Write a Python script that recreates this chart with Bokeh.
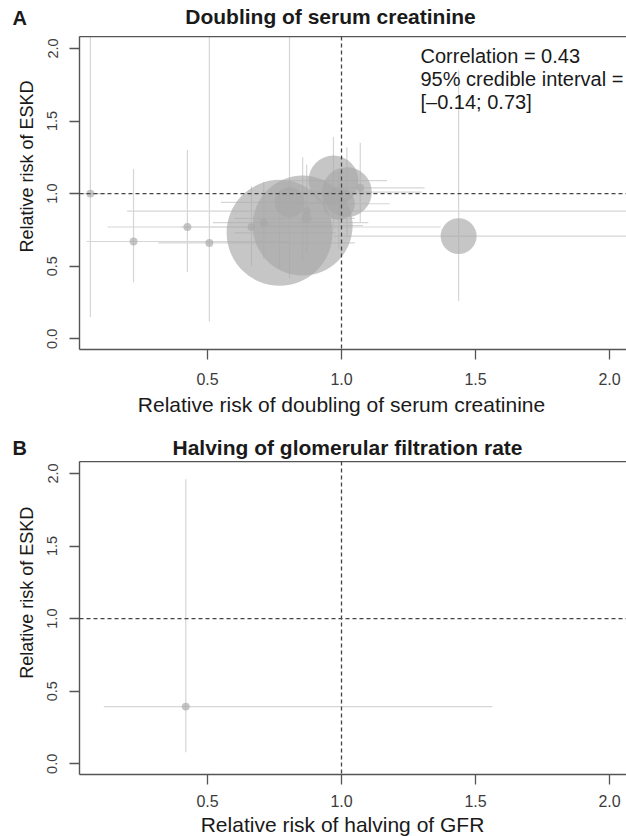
import numpy as np
from bokeh.plotting import figure
from bokeh.models import (Span, Label, LinearAxis, FixedTicker, ColumnDataSource,
                          Range1d, NumeralTickFormatter)
from bokeh.layouts import column, row
from bokeh.embed import file_html
from bokeh.resources import INLINE

# ---------------- data ----------------
# Panel A: relative risk of doubling of serum creatinine (x) vs ESKD (y)
a_rr_dsc   = [0.063, 0.224, 0.425, 0.507, 0.664, 0.710, 0.769, 0.855, 0.806, 0.870, 0.870, 0.970, 1.020, 0.990, 1.070, 1.437]
a_dsc_lo   = [0.035, 0.049, 0.127, 0.317, 0.400, 0.520, 0.600, 0.700, 0.550, 0.200, 0.600, 0.800, 0.850, 0.800, 0.950, 0.970]
a_dsc_hi   = [0.120, 0.800, 1.370, 1.050, 1.000, 1.100, 0.980, 1.080, 0.980, 2.300, 1.050, 1.170, 1.300, 1.180, 1.310, 2.300]
a_rr_eskd  = [1.000, 0.670, 0.770, 0.660, 0.770, 0.800, 0.730, 0.780, 0.940, 0.880, 0.830, 1.090, 1.010, 0.930, 1.040, 0.707]
a_eskd_lo  = [0.150, 0.390, 0.460, 0.120, 0.500, 0.550, 0.490, 0.540, 0.420, 0.600, 0.600, 0.750, 0.700, 0.620, 0.800, 0.260]
a_eskd_hi  = [2.300, 1.170, 1.300, 2.300, 1.050, 1.080, 1.020, 1.250, 2.300, 1.200, 1.100, 1.390, 1.320, 1.150, 1.350, 1.850]
a_weight   = [0.21, 0.21, 0.21, 0.21, 0.21, 0.21, 37.4, 33.3, 3.0, 0.21, 0.33, 8.3, 8.3, 3.4, 0.21, 4.3]

# Panel B: relative risk of halving of GFR (x) vs ESKD (y)
b_rr_gfr   = [0.419]
b_gfr_lo   = [0.113]
b_gfr_hi   = [1.563]
b_rr_eskd  = [0.394]
b_eskd_lo  = [0.080]
b_eskd_hi  = [1.960]
b_weight   = [0.21]

x_ticks = [0.5, 1.0, 1.5, 2.0]
y_ticks = [0.0, 0.5, 1.0, 1.5, 2.0]

title_a = "Doubling of serum creatinine"
title_b = "Halving of glomerular filtration rate"
xlab_a = "Relative risk of doubling of serum creatinine"
xlab_b = "Relative risk of halving of GFR"
ylab = "Relative risk of ESKD"
annot = ["Correlation = 0.43", "95% credible interval =", "[\u20130.14; 0.73]"]

# ---------------- style ----------------
FONT = "Liberation Sans"
BOX = "#555555"
TICKC = "#3c3c3c"
TXT = "#1a1a1a"
CI_COL = "#d6d6d6"
BUB_COL = "#a8a8a8"
X0, X1 = 0.0224, 2.0634
Y0, Y1 = -0.0737, 2.082
W = 626
STRIP_W = 38


def text_strip(w, h, items):
    """A blank figure used only to hold texts (titles, axis titles)."""
    s = figure(width=w, height=h, x_range=Range1d(0, w), y_range=Range1d(0, h),
               output_backend="svg", toolbar_location=None, min_border=0,
               x_axis_location=None, y_axis_location=None)
    s.grid.visible = False
    s.outline_line_color = None
    s.background_fill_color = "white"
    s.border_fill_color = "white"
    for it in items:
        s.add_layout(Label(text_font=FONT, text_baseline="middle", text_color=TXT, **it))
    return s


def make_panel(h, bottom, xs, xlo, xhi, ys, ylo, yhi, w, tick_standoff):
    p = figure(width=W - STRIP_W, height=h, x_range=Range1d(X0, X1), y_range=Range1d(Y0, Y1),
               output_backend="svg", toolbar_location=None,
               min_border_left=41, min_border_right=0,
               min_border_top=0, min_border_bottom=bottom)
    p.grid.visible = False
    p.outline_line_color = None
    p.background_fill_color = "white"
    p.border_fill_color = "white"

    size = 17.32 * np.sqrt(np.array(w))
    src = ColumnDataSource(dict(x=xs, xlo=xlo, xhi=xhi, y=ys, ylo=ylo, yhi=yhi, size=size))
    p.segment(x0="xlo", y0="y", x1="xhi", y1="y", source=src, line_color=CI_COL, line_width=1.2)
    p.segment(x0="x", y0="ylo", x1="x", y1="yhi", source=src, line_color=CI_COL, line_width=1.2)
    p.scatter(x="x", y="y", size="size", source=src, fill_color=BUB_COL, fill_alpha=0.65,
              line_color=None)

    for sp in (Span(location=1.0, dimension="height"), Span(location=1.0, dimension="width")):
        sp.line_color = "#444444"
        sp.line_width = 1.3
        sp.line_dash = "4 3"
        p.add_layout(sp)

    xa = p.xaxis[0]
    xa.ticker = FixedTicker(ticks=x_ticks)
    xa.formatter = NumeralTickFormatter(format="0.0")
    ya = p.yaxis[0]
    ya.ticker = FixedTicker(ticks=y_ticks)
    ya.formatter = NumeralTickFormatter(format="0.0")
    ya.major_label_orientation = "vertical"
    for ax, fs, so in ((xa, "16px", tick_standoff), (ya, "14.5px", 12)):
        ax.axis_line_color = BOX
        ax.axis_line_width = 1.4
        ax.major_tick_line_color = BOX
        ax.major_tick_line_width = 1.3
        ax.major_tick_out = 10
        ax.major_tick_in = 0
        ax.minor_tick_line_color = None
        ax.major_label_text_font = FONT
        ax.major_label_text_font_size = fs
        ax.major_label_text_color = TICKC
        ax.major_label_standoff = so

    top_ax = LinearAxis(ticker=FixedTicker(ticks=[]), major_tick_out=0, major_tick_in=0,
                        minor_tick_out=0, minor_tick_in=0, major_label_text_font_size="0px",
                        axis_line_color=BOX, axis_line_width=1.4)
    p.add_layout(top_ax, "above")
    return p


# ---- panel A ----
head_a = text_strip(W, 36, [
    dict(x=12, y=19, text="A", text_font_style="bold", text_font_size="20px", text_align="left"),
    dict(x=330, y=20, text=title_a, text_font_style="bold", text_font_size="21px", text_align="center"),
])
rowa_h = 355
plot_a = make_panel(rowa_h, 42, a_rr_dsc, a_dsc_lo, a_dsc_hi, a_rr_eskd, a_eskd_lo, a_eskd_hi,
                    a_weight, 13)
for i, t in enumerate(annot):
    plot_a.add_layout(Label(x=341, y=294 - 23 * i, x_units="screen", y_units="screen", text=t,
                            text_font=FONT, text_font_size="20px", text_align="left",
                            text_baseline="middle", text_color=TXT))
ylab_a = text_strip(STRIP_W, rowa_h, [
    dict(x=26, y=rowa_h - 147.5, text=ylab, text_font_size="18px", text_align="center",
         angle=90, angle_units="deg"),
])
xlab_a_strip = text_strip(W, 33, [
    dict(x=341, y=20, text=xlab_a, text_font_size="21px", text_align="center"),
])

# ---- panel B ----
head_b = text_strip(W, 37, [
    dict(x=12, y=14, text="B", text_font_style="bold", text_font_size="20px", text_align="left"),
    dict(x=347, y=14, text=title_b, text_font_style="bold", text_font_size="21px", text_align="center"),
])
rowb_h = 352
plot_b = make_panel(rowb_h, 39, b_rr_gfr, b_gfr_lo, b_gfr_hi, b_rr_eskd, b_eskd_lo, b_eskd_hi,
                    b_weight, 10)
ylab_b = text_strip(STRIP_W, rowb_h, [
    dict(x=26, y=rowb_h - 147.5, text=ylab, text_font_size="18px", text_align="center",
         angle=90, angle_units="deg"),
])
xlab_b_strip = text_strip(W, 23, [
    dict(x=342, y=12, text=xlab_b, text_font_size="21px", text_align="center"),
])

layout = column(head_a, row(ylab_a, plot_a, spacing=0), xlab_a_strip,
                head_b, row(ylab_b, plot_b, spacing=0), xlab_b_strip, spacing=0)
open("out.html", "w").write(file_html(layout, INLINE))
